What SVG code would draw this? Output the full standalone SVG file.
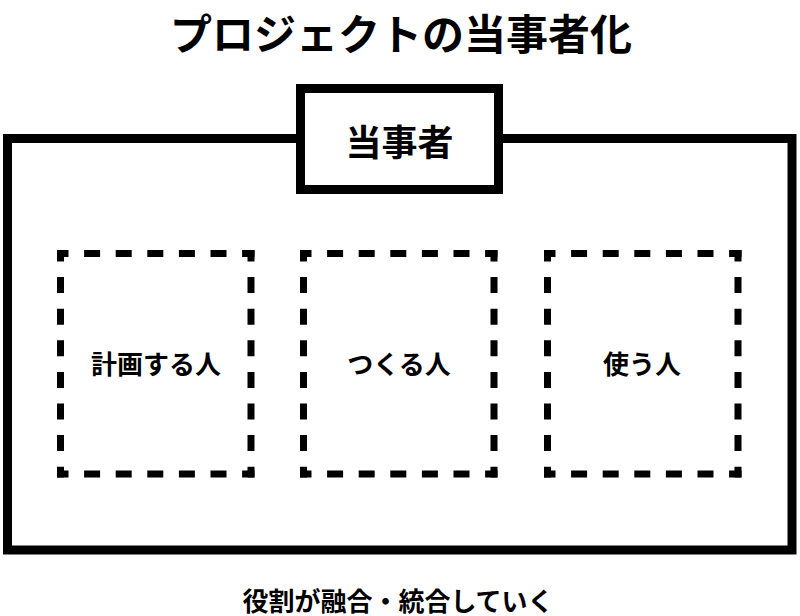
<svg xmlns="http://www.w3.org/2000/svg" width="800" height="616" viewBox="0 0 800 616">
<style>
text{font-family:"Noto Sans CJK JP","Noto Sans",sans-serif;font-weight:700;fill:#000;text-anchor:middle;dominant-baseline:central}
.solid{fill:none;stroke:#000;stroke-width:9}
.dash{stroke:#000;stroke-width:7;stroke-dasharray:16 15.6;stroke-dashoffset:4.5;fill:none}
</style>
<rect width="800" height="616" fill="#fff"/>
<text id="title" x="401" y="31" font-size="42">プロジェクトの当事者化</text>
<g id="outer">
<rect class="solid" x="7.5" y="138.5" width="784.5" height="411.5"/>
</g>
<g id="stakeholder">
<rect x="300.5" y="88.5" width="198" height="101" fill="#fff" stroke="#000" stroke-width="9"/>
<text x="399.5" y="140" font-size="36">当事者</text>
</g>
<g id="planner">
<line class="dash" x1="57" y1="253.5" x2="254.5" y2="253.5"/>
<line class="dash" x1="57" y1="474" x2="254.5" y2="474"/>
<line class="dash" x1="60.5" y1="250" x2="60.5" y2="477.5"/>
<line class="dash" x1="251" y1="250" x2="251" y2="477.5"/>
<text x="156" y="362" font-size="26">計画する人</text>
</g>
<g id="maker">
<line class="dash" x1="300" y1="253.5" x2="497.5" y2="253.5"/>
<line class="dash" x1="300" y1="474" x2="497.5" y2="474"/>
<line class="dash" x1="303.5" y1="250" x2="303.5" y2="477.5"/>
<line class="dash" x1="494" y1="250" x2="494" y2="477.5"/>
<text x="399" y="362" font-size="26">つくる人</text>
</g>
<g id="user">
<line class="dash" x1="544" y1="253.5" x2="741.5" y2="253.5"/>
<line class="dash" x1="544" y1="474" x2="741.5" y2="474"/>
<line class="dash" x1="547.5" y1="250" x2="547.5" y2="477.5"/>
<line class="dash" x1="738" y1="250" x2="738" y2="477.5"/>
<text x="642" y="362" font-size="26">使う人</text>
</g>
<g id="connectors"></g>
<text id="caption" x="398" y="599" font-size="26">役割が融合・統合していく</text>
</svg>
